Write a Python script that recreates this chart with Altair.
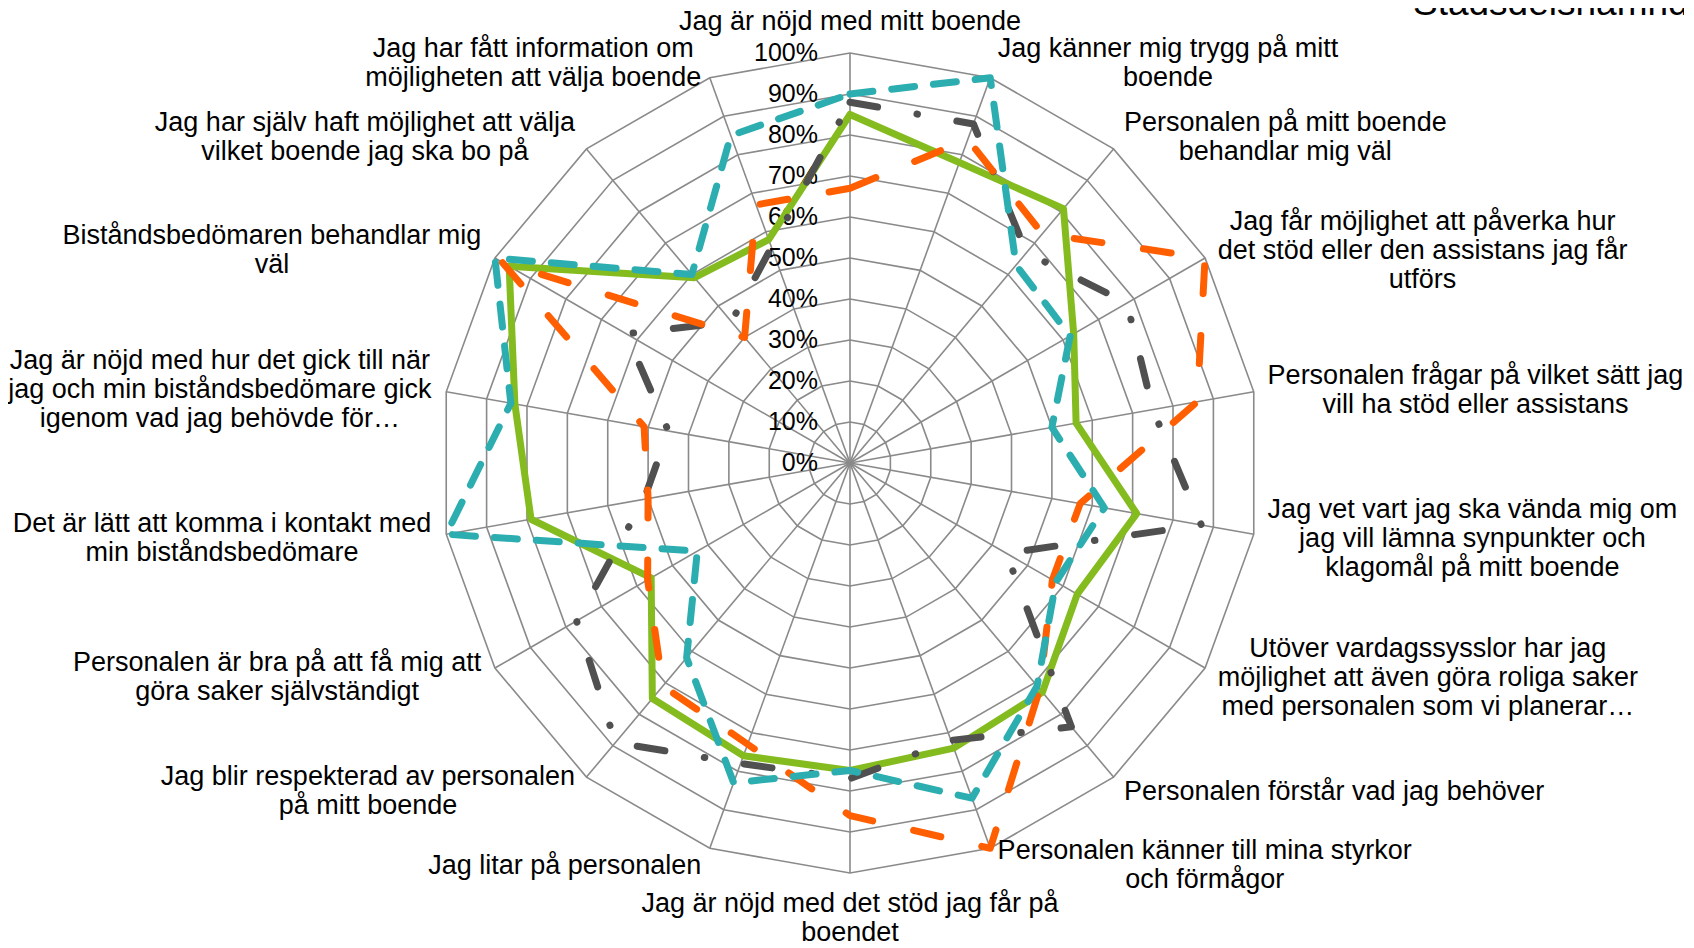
import math
import altair as alt
import pandas as pd

# ---------------- data ----------------
categories = [
    "Jag är nöjd med mitt boende",
    "Jag känner mig trygg på mitt boende",
    "Personalen på mitt boende behandlar mig väl",
    "Jag får möjlighet att påverka hur det stöd eller den assistans jag får utförs",
    "Personalen frågar på vilket sätt jag vill ha stöd eller assistans",
    "Jag vet vart jag ska vända mig om jag vill lämna synpunkter och klagomål på mitt boende",
    "Utöver vardagssysslor har jag möjlighet att även göra roliga saker med personalen som vi planerar…",
    "Personalen förstår vad jag behöver",
    "Personalen känner till mina styrkor och förmågor",
    "Jag är nöjd med det stöd jag får på boendet",
    "Jag litar på personalen",
    "Jag blir respekterad av personalen på mitt boende",
    "Personalen är bra på att få mig att göra saker självständigt",
    "Det är lätt att komma i kontakt med min biståndsbedömare",
    "Jag är nöjd med hur det gick till när jag och min biståndsbedömare gick igenom vad jag behövde för…",
    "Biståndsbedömaren behandlar mig väl",
    "Jag har själv haft möjlighet att välja vilket boende jag ska bo på",
    "Jag har fått information om möjligheten att välja boende",
]

label_lines = [
    ["Jag är nöjd med mitt boende"],
    ["Jag känner mig trygg på mitt", "boende"],
    ["Personalen på mitt boende", "behandlar mig väl"],
    ["Jag får möjlighet att påverka hur", "det stöd eller den assistans jag får", "utförs"],
    ["Personalen frågar på vilket sätt jag", "vill ha stöd eller assistans"],
    ["Jag vet vart jag ska vända mig om", "jag vill lämna synpunkter och", "klagomål på mitt boende"],
    ["Utöver vardagssysslor har jag", "möjlighet att även göra roliga saker", "med personalen som vi planerar…"],
    ["Personalen förstår vad jag behöver"],
    ["Personalen känner till mina styrkor", "och förmågor"],
    ["Jag är nöjd med det stöd jag får på", "boendet"],
    ["Jag litar på personalen"],
    ["Jag blir respekterad av personalen", "på mitt boende"],
    ["Personalen är bra på att få mig att", "göra saker självständigt"],
    ["Det är lätt att komma i kontakt med", "min biståndsbedömare"],
    ["Jag är nöjd med hur det gick till när", "jag och min biståndsbedömare gick", "igenom vad jag behövde för…"],
    ["Biståndsbedömaren behandlar mig", "väl"],
    ["Jag har själv haft möjlighet att välja", "vilket boende jag ska bo på"],
    ["Jag har fått information om", "möjligheten att välja boende"],
]

series_names = ["Serie 1", "Serie 2", "Serie 3", "Serie 4"]
green_vals = [85, 78, 81, 63, 56, 71, 64, 73, 74, 75, 76, 75, 56, 79, 83, 96, 59, 58]
gray_vals = [88, 88, 67, 78, 75, 87, 44, 84, 72, 77, 78, 89, 77, 51, 45, 63, 45, 56]
orange_vals = [67, 84, 73, 100, 86, 57, 57, 72, 100, 86, 73, 71, 57, 50, 51, 98, 40, 67]
teal_vals = [90, 100, 63, 62, 50, 63, 58, 71, 87, 75, 83, 62, 43, 100, 84, 100, 60, 85]

tick_labels = ["0%", "10%", "20%", "30%", "40%", "50%", "60%", "70%", "80%", "90%", "100%"]
title_text = "Stadsdelsnämnd"

# ---------------- layout constants ----------------
N = len(categories)
W, H = 1676, 940
PCX, PCY, RPX = 850.0, 463.0, 410.0   # page centre and radius (px)
FONT = "Liberation Sans, Arial, sans-serif"
LAB_FS, LINE_H = 27, 29
LW = 7


def ux(px):
    return (px - PCX) / RPX


def uy(py):
    return (PCY - py) / RPX


XD = [ux(8), ux(8 + W)]
YD = [uy(8 + H), uy(8)]

# Arial / Liberation Sans advance widths (1/1000 em)
CW = {" ": 278, "a": 556, "b": 556, "c": 500, "d": 556, "e": 556, "f": 278, "g": 556,
      "h": 556, "i": 222, "j": 222, "k": 500, "l": 222, "m": 833, "n": 556, "o": 556,
      "p": 556, "q": 556, "r": 333, "s": 500, "t": 278, "u": 556, "v": 500, "w": 722,
      "x": 500, "y": 500, "z": 500, "å": 556, "ä": 556, "ö": 556, "J": 500, "P": 667,
      "B": 667, "D": 722, "U": 722, "S": 667, "…": 1000}


def text_w(s, fs):
    return sum(CW.get(ch, 556) for ch in s) / 1000.0 * fs


# ---------------- tables ----------------
rows = []
for name, vals in zip(series_names, [green_vals, gray_vals, orange_vals, teal_vals]):
    for i in range(N + 1):
        rows.append({"series": name, "idx": i, "value": vals[i % N]})
series_df = pd.DataFrame(rows)

ring_df = pd.DataFrame([{"ring": k, "idx": i, "r": k / 10.0}
                        for k in range(1, 11) for i in range(N + 1)])
spoke_df = pd.DataFrame({"idx": list(range(N))})
tick_df = pd.DataFrame({"k": list(range(len(tick_labels))), "txt": tick_labels})

lab_rows = []
for i, lines in enumerate(label_lines):
    th = 2 * math.pi * i / N
    s, c = math.sin(th), math.cos(th)
    px_, py_ = PCX + (RPX + 10) * s, PCY - (RPX + 10) * c
    h = len(lines) * LINE_H
    w = max(text_w(l, LAB_FS) for l in lines)
    if abs(s) < 1e-6:
        cx = px_
        cy = py_ - 7.5 - h / 2 if c > 0 else py_ + 5 + h / 2
    else:
        cy = py_ - 7 * c
        cx = px_ + 4 + w / 2 if s > 0 else px_ - 5 - w / 2
    top = cy - h / 2
    for k, line in enumerate(lines):
        lab_rows.append({"px": ux(cx), "py": uy(top + k * LINE_H + 23.9), "text": line})
lab_df = pd.DataFrame(lab_rows)

title_df = pd.DataFrame({"px": [ux(1413)], "py": [uy(14.5)], "text": [title_text]})

# ---------------- encodings ----------------
X = alt.X("px:Q", scale=alt.Scale(domain=XD, nice=False, zero=False), axis=None)
Y = alt.Y("py:Q", scale=alt.Scale(domain=YD, nice=False, zero=False), axis=None)
ANG = "datum.idx * 2 * PI / %d" % N

rings = alt.Chart(ring_df).transform_calculate(
    ang=ANG, px="datum.r * sin(datum.ang)", py="datum.r * cos(datum.ang)"
).mark_line(stroke="#8a8a8a", strokeWidth=1.6).encode(
    x=X, y=Y, detail="ring:N", order="idx:Q")

spokes = alt.Chart(spoke_df).transform_calculate(
    ang=ANG, px="0", py="0", px2="sin(datum.ang)", py2="cos(datum.ang)"
).mark_rule(stroke="#8a8a8a", strokeWidth=1.6).encode(
    x=X, y=Y, x2=alt.X2("px2:Q"), y2=alt.Y2("py2:Q"))

ticks = alt.Chart(tick_df).transform_calculate(
    px="0", py="datum.k / 10"
).mark_text(align="right", baseline="middle", dx=-32, fontSize=25, font=FONT,
            color="#000000").encode(x=X, y=Y, text="txt:N")


def series_layer(name, color, dash):
    kw = dict(stroke=color, strokeWidth=LW, strokeCap="round", strokeJoin="round")
    if dash:
        kw["strokeDash"] = dash
    return alt.Chart(series_df).transform_filter(
        alt.datum.series == name
    ).transform_calculate(
        ang=ANG, px="datum.value / 100 * sin(datum.ang)", py="datum.value / 100 * cos(datum.ang)"
    ).mark_line(**kw).encode(x=X, y=Y, order="idx:Q")


green = series_layer(series_names[0], "#84bb1e", None)
gray = series_layer(series_names[1], "#505050", [28, 40, 0.5, 40])
orange = series_layer(series_names[2], "#ff5f00", [28, 42])
teal = series_layer(series_names[3], "#2caeb1", [23, 19])

labels = alt.Chart(lab_df).mark_text(
    align="center", baseline="alphabetic", fontSize=LAB_FS, font=FONT, color="#000000"
).encode(x=X, y=Y, text="text:N")

title = alt.Chart(title_df).mark_text(
    align="left", baseline="alphabetic", fontSize=37, font=FONT, color="#000000"
).encode(x=X, y=Y, text="text:N")

chart = alt.layer(rings, spokes, ticks, green, gray, orange, teal, labels, title).properties(
    width=W, height=H, autosize=alt.AutoSizeParams(type="none"), padding=0
).configure_view(stroke=None)

chart.save("out.html", embed_options={"renderer": "svg", "actions": False})
